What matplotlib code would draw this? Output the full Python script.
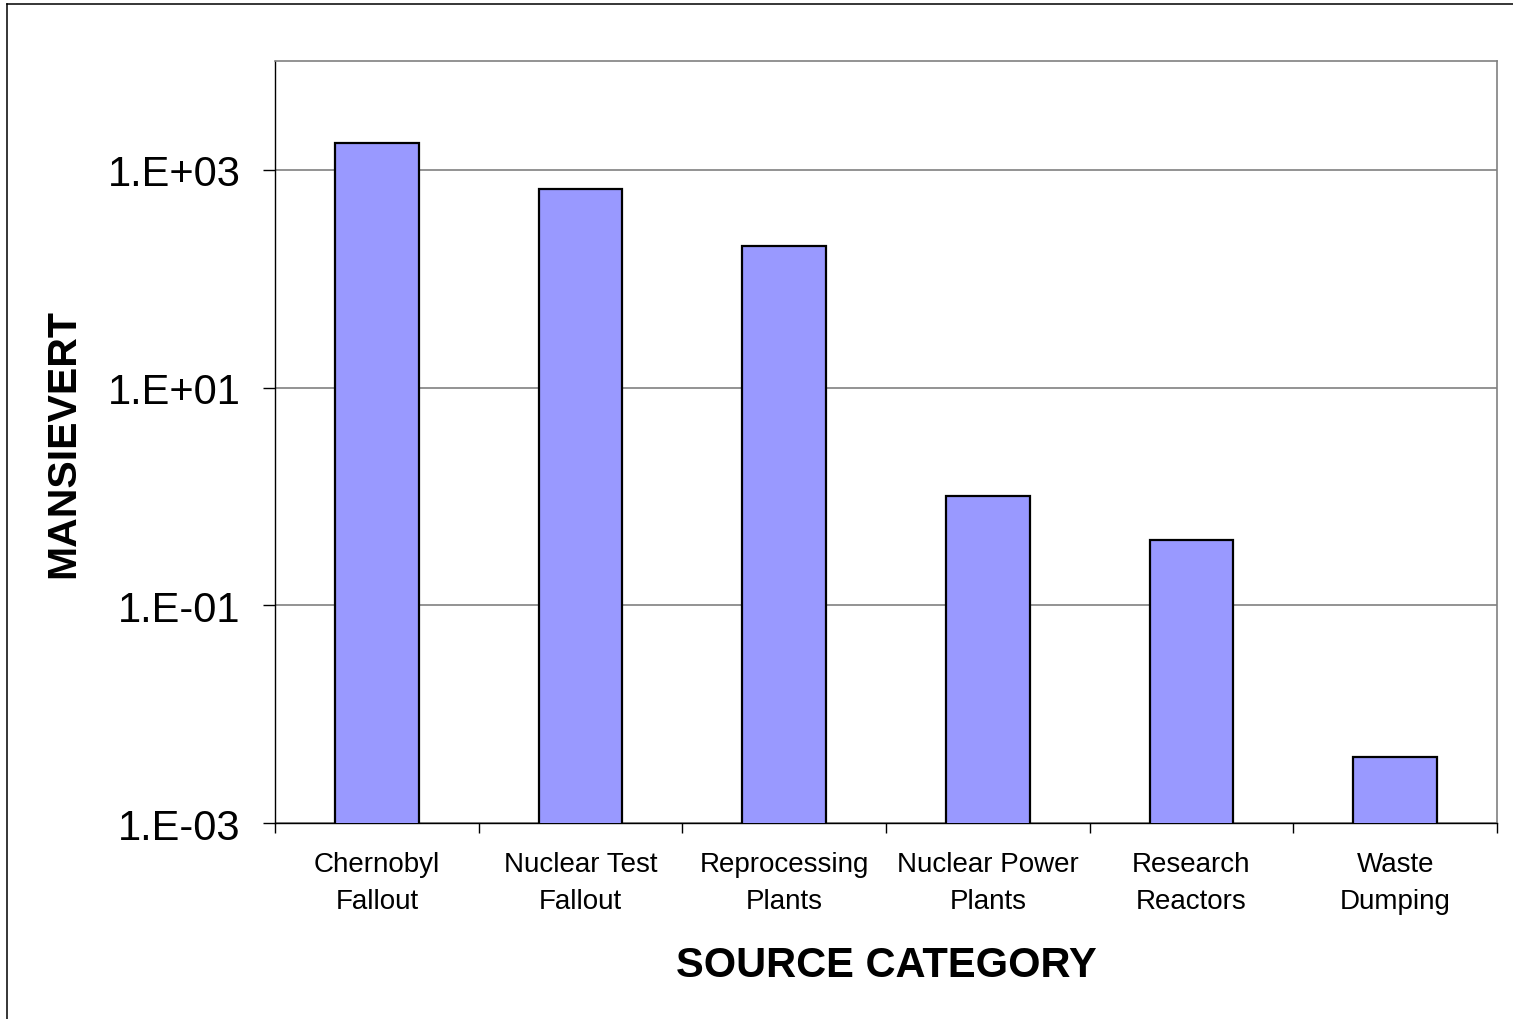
#!/usr/bin/env python3
"""Collective dose by source category, log-scale bar chart."""

from __future__ import annotations

import matplotlib

matplotlib.use("Agg")
import matplotlib.pyplot as plt
from matplotlib.lines import Line2D
import numpy as np

CATEGORIES = [
    "Chernobyl\nFallout",
    "Nuclear Test\nFallout",
    "Reprocessing\nPlants",
    "Nuclear Power\nPlants",
    "Research\nReactors",
    "Waste\nDumping",
]
MANSIEVERT = [1760, 665, 200, 1.0, 0.40, 0.004]

Y_TICKS = [1e-3, 1e-1, 1e1, 1e3]
Y_TICK_LABELS = ["1.E-03", "1.E-01", "1.E+01", "1.E+03"]
Y_LIMITS = (1e-3, 1e4)

BAR_FILL = "#9999FF"
GRID_GREY = "#808080"
FONT = ["Liberation Sans", "DejaVu Sans"]

W_PX, H_PX = 1513, 1020
DPI = 100


def apply_style() -> None:
    plt.rcParams.update({
        "font.family": FONT,
        "figure.dpi": DPI,
        "savefig.dpi": DPI,
    })


def px_box(left: float, top: float, right: float, bottom: float) -> list[float]:
    return [left / W_PX, 1 - bottom / H_PX, (right - left) / W_PX, (bottom - top) / H_PX]


def build_figure(out_path: str = "out.png") -> None:
    apply_style()
    fig = plt.figure(figsize=(W_PX / DPI, H_PX / DPI))
    ax = fig.add_axes(px_box(275, 62, 1497, 824))

    x = np.arange(len(CATEGORIES))
    ax.bar(x, MANSIEVERT, width=0.41, color=BAR_FILL, edgecolor="black",
           linewidth=1.6, zorder=3)
    ax.set_yscale("log")
    ax.set_ylim(*Y_LIMITS)
    ax.set_xlim(-0.5, len(CATEGORIES) - 0.5)

    ax.set_yticks(Y_TICKS)
    ax.set_yticklabels(Y_TICK_LABELS)
    ax.yaxis.set_minor_locator(matplotlib.ticker.NullLocator())
    ax.tick_params(axis="y", which="major", direction="out", length=9, width=1.0,
                   pad=16, labelsize=30, colors="black")
    ax.grid(True, axis="y", which="major", color=GRID_GREY, linewidth=1.2, zorder=0)
    ax.set_axisbelow(True)

    # category boundaries carry the tick marks, centres carry the labels
    ax.set_xticks(np.arange(len(CATEGORIES) + 1) - 0.5)
    ax.set_xticklabels([])
    ax.set_xticks(x, minor=True)
    ax.set_xticklabels(CATEGORIES, minor=True, fontsize=20, linespacing=1.55)
    ax.tick_params(axis="x", which="major", direction="out", length=7, width=1.0)
    ax.tick_params(axis="x", which="minor", length=0, pad=20.5)

    for side in ("top", "right"):
        ax.spines[side].set_color(GRID_GREY)
        ax.spines[side].set_linewidth(1.2)
    for side in ("left", "bottom"):
        ax.spines[side].set_color("black")
        ax.spines[side].set_linewidth(1.0)

    ax.set_xlabel("SOURCE CATEGORY", fontsize=30, fontweight="bold", va="center")
    ax.xaxis.set_label_coords(0.5, (824 - 966) / 762)
    ax.set_ylabel("MANSIEVERT", fontsize=29.5, fontweight="bold", va="center")
    ax.yaxis.set_label_coords((63 - 275) / 1222, 0.5)

    # chart-area border along the top and left edges
    fig.add_artist(Line2D([7.5 / W_PX, 1.0], [1 - 4.5 / H_PX] * 2,
                          color="black", linewidth=1.1))
    fig.add_artist(Line2D([7.5 / W_PX] * 2, [0.0, 1 - 4.5 / H_PX],
                          color="black", linewidth=1.1))

    fig.savefig(out_path, dpi=DPI, facecolor="white")
    plt.close(fig)


if __name__ == "__main__":
    build_figure()
